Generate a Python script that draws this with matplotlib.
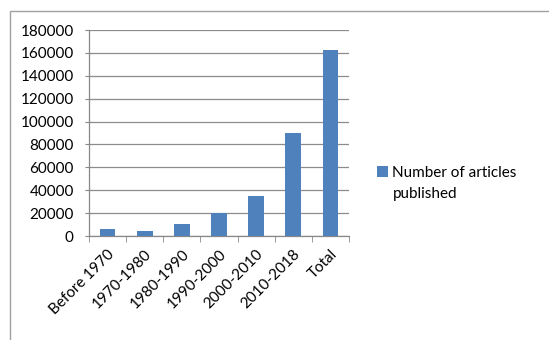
import matplotlib
matplotlib.use("Agg")
import matplotlib.pyplot as plt
from matplotlib.patches import Rectangle

categories = ["Before 1970", "1970-1980", "1980-1990", "1990-2000", "2000-2010", "2010-2018", "Total"]
articles = [6000, 4400, 10500, 20300, 34700, 89700, 162500]
series_name = ["Number of articles", "published"]

plt.rcParams['font.family'] = ['Lato', 'DejaVu Sans']
FS = 11

W, H = 549, 340
fig = plt.figure(figsize=(W / 100, H / 100), dpi=100)
ax = fig.add_axes([89 / W, 1 - 236 / H, 260 / W, 206 / H])

x = list(range(len(categories)))
bars = ax.bar(x, articles, width=0.42, color="#4F81BD", zorder=3)

ax.set_xlim(-0.5, len(categories) - 0.5)
ax.set_ylim(0, 180000)
ax.set_yticks(range(0, 180001, 20000))
ax.tick_params(axis='y', labelsize=FS, colors="#888888", labelcolor="black",
               length=3, pad=8, direction='out')
ax.grid(axis='y', color="#8c8c8c", linewidth=0.9, zorder=0)

ax.set_xticks(x)
ax.set_xticklabels(categories, rotation=45, ha='right', va='top',
                   rotation_mode='anchor', fontsize=FS)
ax.set_xticks([i - 0.5 for i in range(len(categories) + 1)], minor=True)
ax.tick_params(axis='x', which='major', length=0, pad=8)
ax.tick_params(axis='x', which='minor', length=4, color="#888888", direction='out')

for side in ['top', 'right']:
    ax.spines[side].set_visible(False)
for side in ['left', 'bottom']:
    ax.spines[side].set_color("#888888")
    ax.spines[side].set_linewidth(0.9)

leg = fig.legend(handles=[bars], labels=[series_name[0]], loc='upper left',
                 bbox_to_anchor=(371 / W, 1 - 160 / H), frameon=False,
                 fontsize=FS, handlelength=0.7, handleheight=0.7,
                 handletextpad=0.3, borderaxespad=0)

fig.canvas.draw()
t = leg.get_texts()[0]
bb = t.get_window_extent()
x0 = bb.x0 / fig.dpi / fig.get_figwidth()
y0 = (bb.y0 - 21) / fig.dpi / fig.get_figheight()
fig.text(x0, y0, series_name[1], fontsize=FS, ha='left', va='bottom')

fig.patches.append(Rectangle((10 / W, -0.1), 1.2, 1.1 - 11 / H,
                             transform=fig.transFigure, fill=False,
                             edgecolor="#a0a0a0", linewidth=1.0))

fig.savefig("out.png", dpi=100, facecolor="white")
